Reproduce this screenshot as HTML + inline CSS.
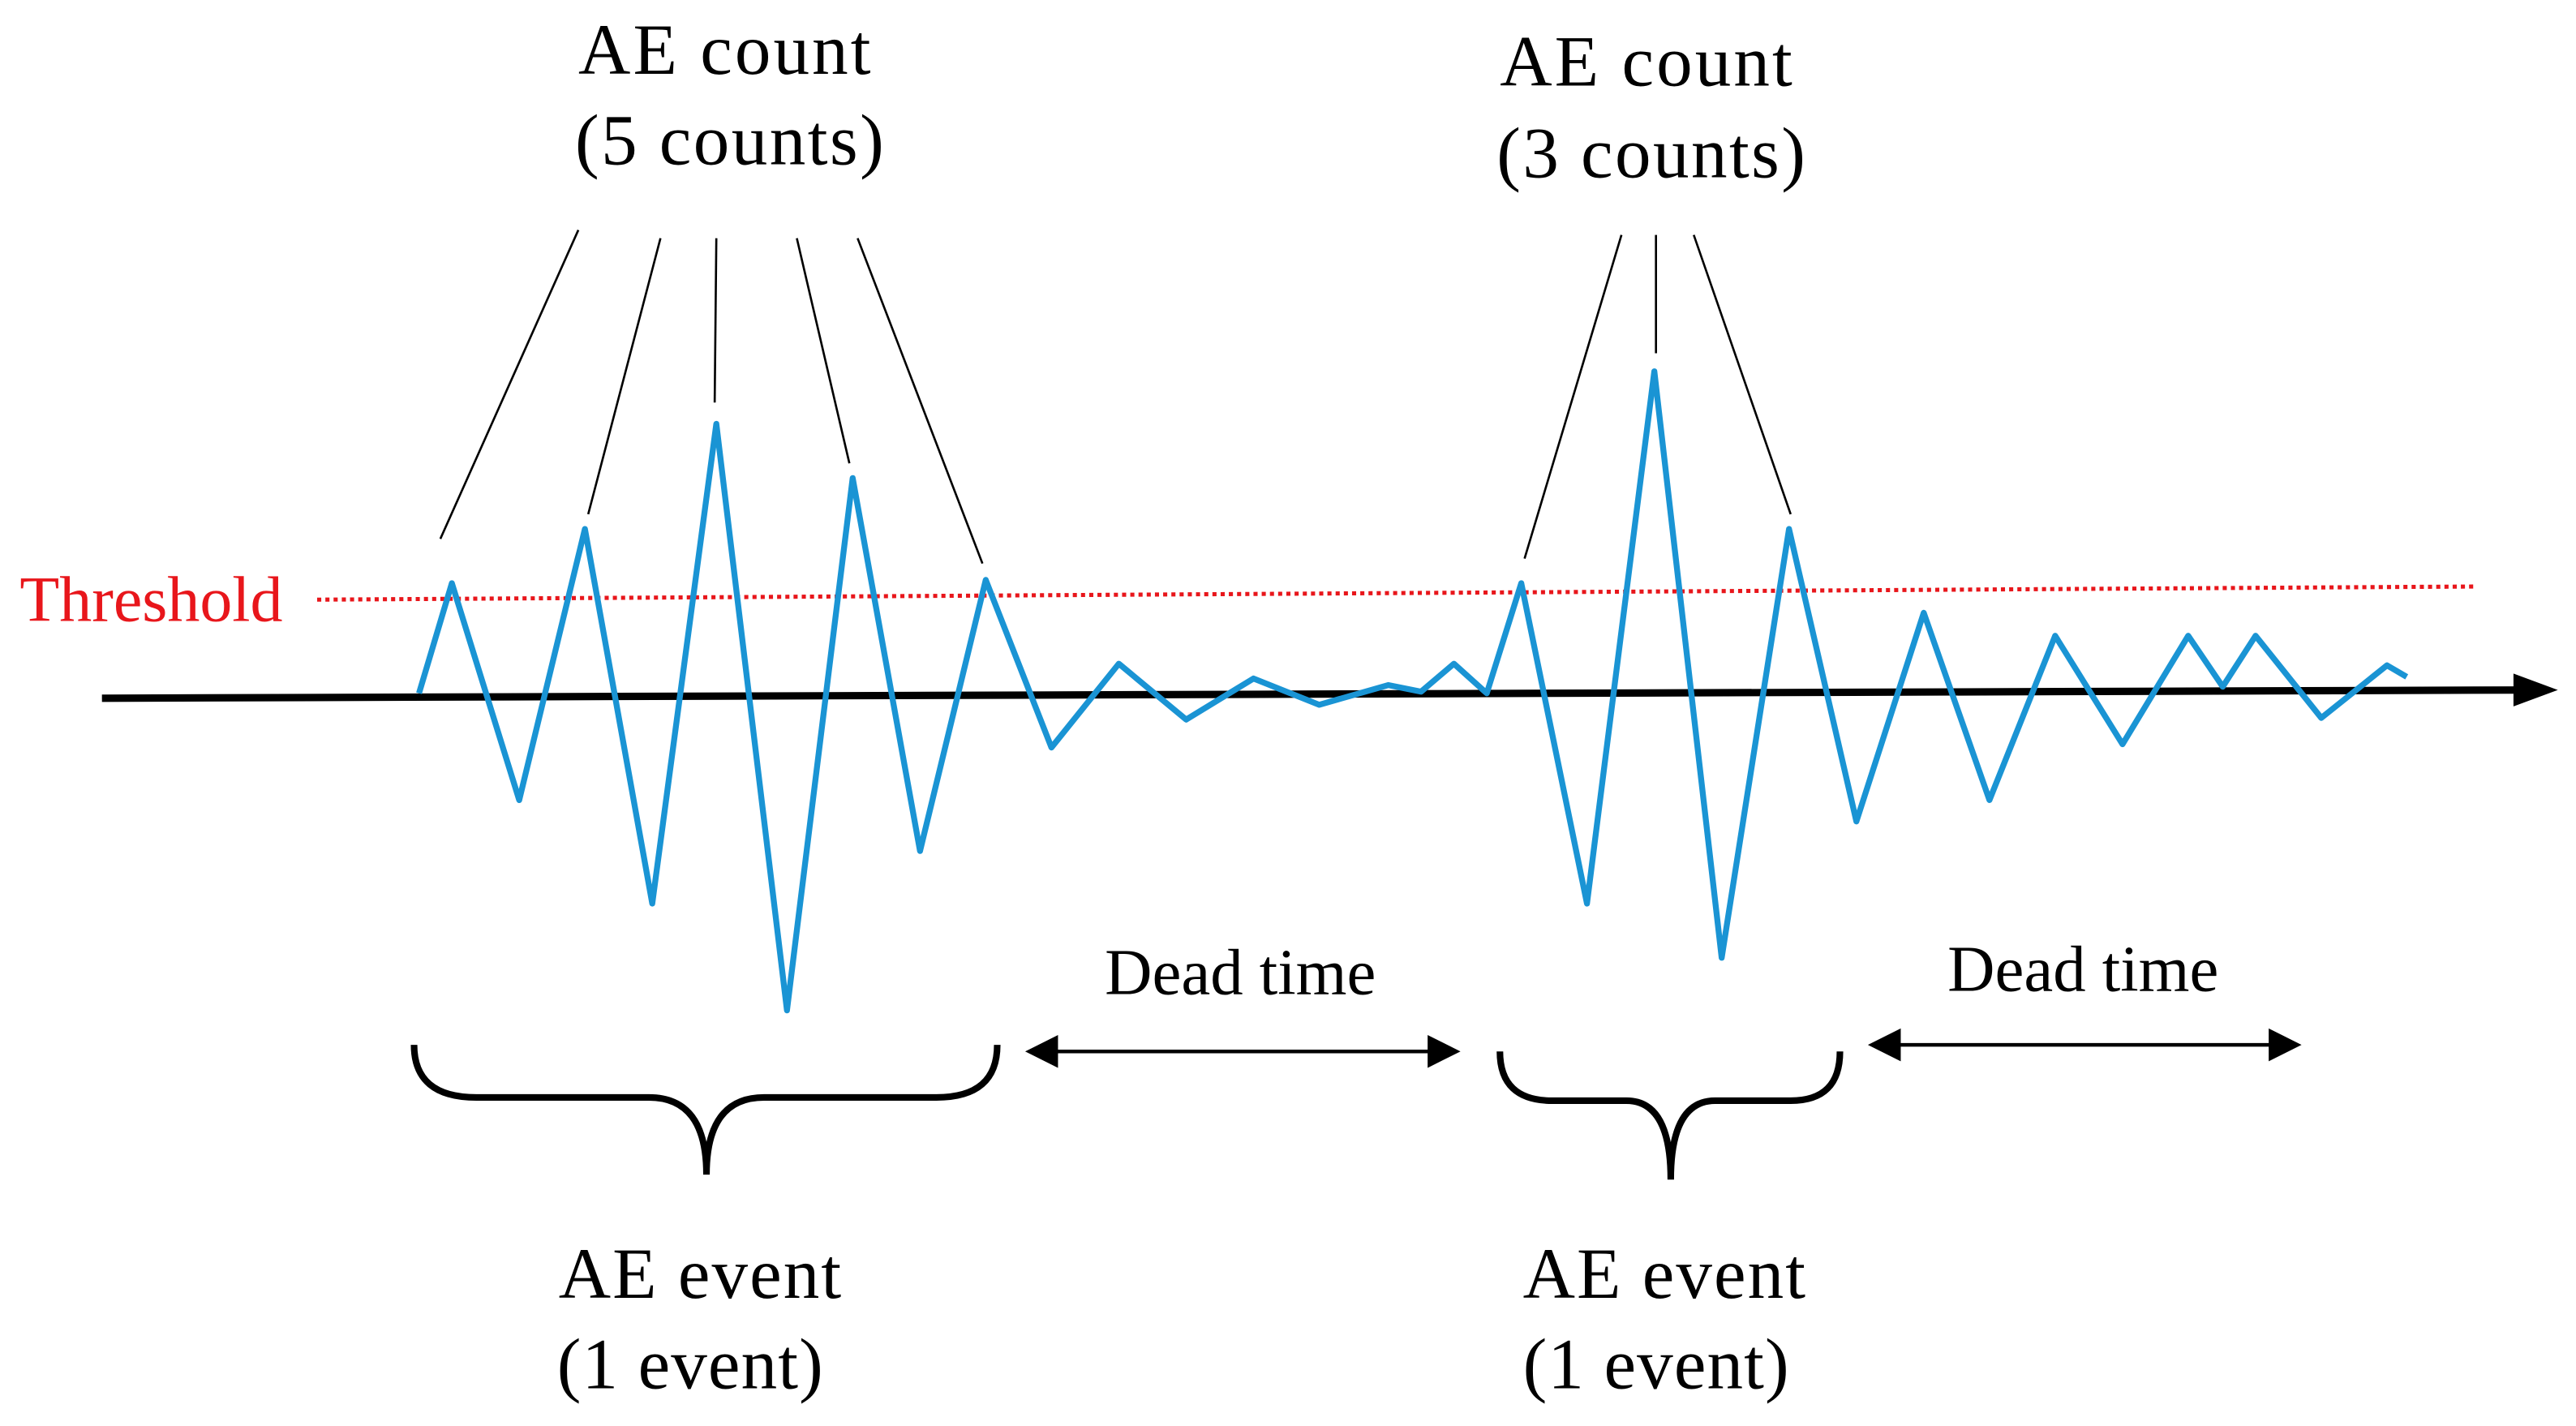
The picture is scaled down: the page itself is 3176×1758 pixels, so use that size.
<!DOCTYPE html>
<html><head><meta charset="utf-8"><style>html,body{margin:0;padding:0;background:#fff}svg{display:block}</style></head>
<body>
<svg width="3176" height="1758" viewBox="0 0 1568 868" xmlns="http://www.w3.org/2000/svg" font-family="'Liberation Serif', serif">
<rect width="1568" height="868" fill="#fff"/>
<g stroke="#000" stroke-width="1.3" fill="none">
<line x1="352" y1="140" x2="268" y2="328"/>
<line x1="402" y1="145" x2="358" y2="313"/>
<line x1="436" y1="145" x2="435" y2="245"/>
<line x1="485" y1="145" x2="517" y2="282"/>
<line x1="522" y1="145" x2="598" y2="343"/>
<line x1="987" y1="143" x2="928" y2="340"/>
<line x1="1008" y1="143" x2="1008" y2="215"/>
<line x1="1031" y1="143" x2="1090" y2="313"/>
</g>
<line x1="193" y1="365" x2="1507" y2="357" stroke="#e8161b" stroke-width="2.5" stroke-dasharray="2.5,2.5"/>
<text x="12" y="378" font-size="39" fill="#e8161b" textLength="160" lengthAdjust="spacingAndGlyphs">Threshold</text>
<line x1="62" y1="425" x2="1535" y2="420" stroke="#000" stroke-width="4.5"/>
<polygon points="1530,410 1557,420 1530,430" fill="#000"/>
<polyline fill="none" stroke="#1a94d4" stroke-width="3.6" stroke-linejoin="round" points="255,422 275,355 316,487 356,322 397,550 436,258 479,615 519,291 560,518 600,353 640,455 681,404 722,438 763,413 803,429 845,417 865,421 885,404 905,422 926,355 966,550 1007,226 1048,583 1089,322 1130,500 1171,373 1211,487 1251,387 1292,453 1332,387 1353,418 1373,387 1413,437 1453,405 1465,412"/>
<g font-size="44" text-anchor="middle" fill="#000" lengthAdjust="spacingAndGlyphs">
<text x="441" y="45" textLength="178">AE count</text>
<text x="444" y="100" textLength="188">(5 counts)</text>
<text x="1002" y="52" textLength="178">AE count</text>
<text x="1005" y="108" textLength="188">(3 counts)</text>
<text x="426" y="790" textLength="172">AE event</text>
<text x="420" y="845" textLength="162">(1 event)</text>
<text x="1013" y="790" textLength="172">AE event</text>
<text x="1008" y="845" textLength="162">(1 event)</text>
</g>
<g font-size="40" text-anchor="middle" fill="#000">
<text x="755" y="605" textLength="165" lengthAdjust="spacingAndGlyphs">Dead time</text>
<text x="1268" y="603" textLength="165" lengthAdjust="spacingAndGlyphs">Dead time</text>
</g>
<g stroke="#000" stroke-width="2.2">
<line x1="635" y1="640" x2="878" y2="640"/>
<line x1="1148" y1="636" x2="1390" y2="636"/>
</g>
<g fill="#000">
<polygon points="624,640 644,630 644,650"/>
<polygon points="889,640 869,630 869,650"/>
<polygon points="1137,636 1157,626 1157,646"/>
<polygon points="1401,636 1381,626 1381,646"/>
</g>
<g fill="none" stroke="#000" stroke-width="4">
<path d="M252,636 Q252,668 290,668 L395,668 Q430,668 430,715 Q430,668 465,668 L570,668 Q607,668 607,636"/>
<path d="M913,640 Q913,670 945,670 L990,670 Q1017,670 1017,718 Q1017,670 1044,670 L1090,670 Q1120,670 1120,640"/>
</g>
</svg>
</body></html>
